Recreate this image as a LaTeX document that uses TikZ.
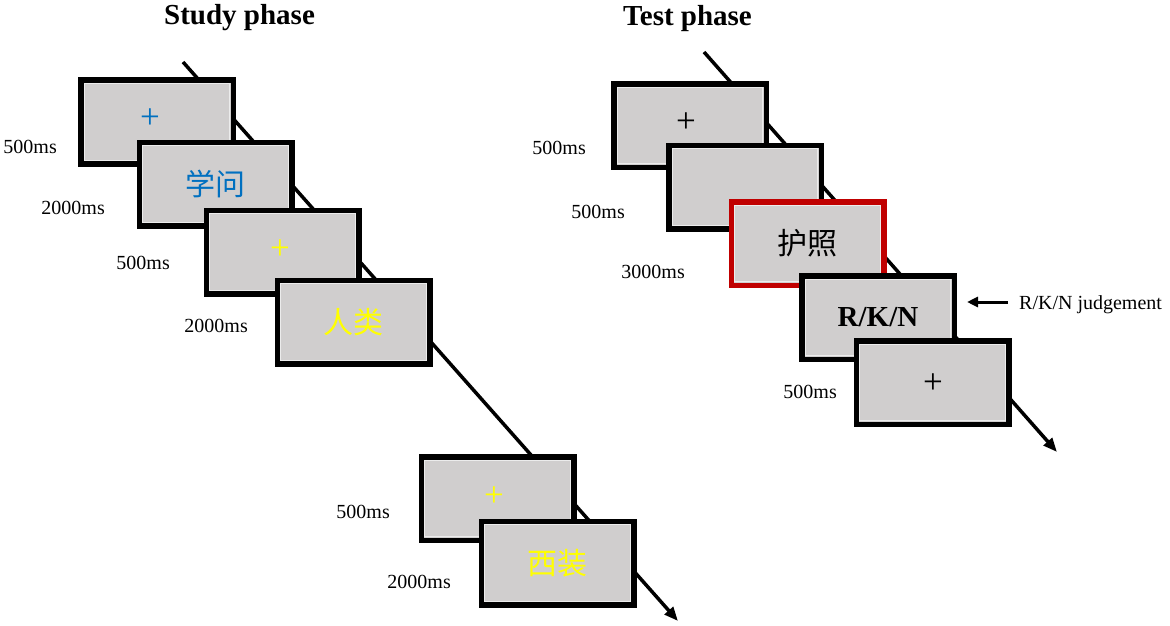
\documentclass[tikz,border=0pt]{standalone}
\usepackage{fontspec}
\setmainfont{Liberation Serif}
\newfontfamily\cjk{Noto Sans CJK SC}
\usetikzlibrary{arrows.meta}
\definecolor{boxgray}{HTML}{D0CECE}
\definecolor{wblue}{HTML}{0070C0}
\definecolor{wyellow}{HTML}{FFFF00}
\definecolor{wred}{HTML}{C00000}
\definecolor{innerline}{HTML}{ECECEC}
\tikzset{
  screen/.style={draw=black, fill=boxgray, line width=5.5pt,
    minimum width=152.5pt, minimum height=83.5pt, inner sep=0pt,
    path picture={\draw[innerline, line width=1pt]
      ([shift={(3.4pt,-3.4pt)}]path picture bounding box.north west) rectangle
      ([shift={(-3.4pt,3.4pt)}]path picture bounding box.south east);}},
  redscreen/.style={screen, draw=wred},
  timeline/.style={line width=3.5pt, -{Triangle[length=14pt,width=11pt]}},
  pointer/.style={line width=3pt, -{Triangle[length=11pt,width=10pt]}},
  dur/.style={font=\fontsize{20}{24}\selectfont, anchor=east, inner sep=0pt},
  word/.style={font=\cjk\fontsize{30}{36}\selectfont},
  fix/.style={font=\fontsize{35}{40}\selectfont, inner sep=0pt},
  title/.style={font=\bfseries\fontsize{29}{34}\selectfont, anchor=base west, inner sep=0pt},
}
\begin{document}
\begin{tikzpicture}[x=1pt,y=-1pt]
\useasboundingbox (0,0) rectangle (1170,626);

% titles
\node[title] (stitle) at (164,25) {Study phase};
\node[title] (ttitle) at (623,26) {Test phase};

% timelines
\coordinate (sA) at (183,62);
\coordinate (sB) at (678,621);
\draw[timeline] (sA) -- (sB);
\coordinate (tA) at (704,52);
\coordinate (tB) at (1057,452);
\draw[timeline] (tA) -- (tB);

% study screens
\node[screen] (s1) at (157,122) {};
\node[fix, text=wblue] (s1p) at (150,119) {+};
\node[screen, word, text=wblue] (s2) at (215.5,184) {学问};
\node[screen] (s3) at (282.5,252) {};
\node[fix, text=wyellow] (s3p) at (280,250) {+};
\node[screen, word, text=wyellow] (s4) at (353.5,322) {人类};
\node[screen] (s5) at (497.5,498.5) {};
\node[fix, text=wyellow] (s5p) at (494,497) {+};
\node[screen, word, text=wyellow] (s6) at (557.5,563) {西装};

% study durations
\node[dur] (ls1) at (57,147) {500ms};
\node[dur] (ls2) at (105,208) {2000ms};
\node[dur] (ls3) at (170,263) {500ms};
\node[dur] (ls4) at (248,326) {2000ms};
\node[dur] (ls5) at (390,512) {500ms};
\node[dur] (ls6) at (451,582) {2000ms};

% test screens
\node[screen] (t1) at (690,125.5) {};
\node[fix] (t1p) at (686,123) {+};
\node[screen] (t2) at (745,187) {};
\node[redscreen, word] (t3) at (807.5,243.5) {护照};
\node[screen, font=\bfseries\fontsize{29}{34}\selectfont] (t4) at (878,317.5) {R/K/N};
\node[screen] (t5) at (932.5,382.5) {};
\node[fix] (t5p) at (933,384) {+};

% test durations
\node[dur] (lt1) at (586,148) {500ms};
\node[dur] (lt2) at (625,212) {500ms};
\node[dur] (lt3) at (685,272) {3000ms};
\node[dur] (lt5) at (837,392) {500ms};

% judgement pointer
\node[font=\fontsize{20}{24}\selectfont, anchor=base west, inner sep=0pt] (jlab) at (1019,309) {R/K/N judgement};
\coordinate (jtail) at (1008,302);
\coordinate (jtip) at (967,302);
\draw[pointer] (jtail) -- (jtip);
\end{tikzpicture}
\end{document}
